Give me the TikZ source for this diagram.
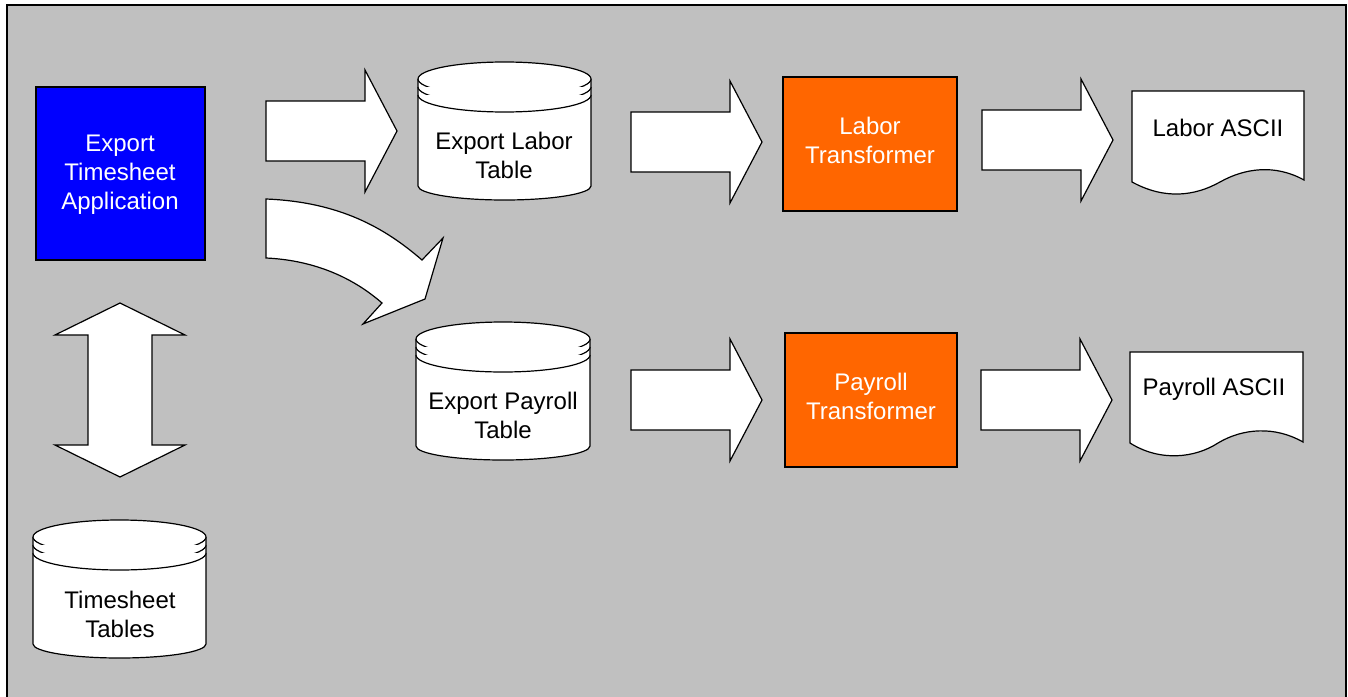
\documentclass[tikz,border=0pt]{standalone}
\usepackage{fontspec}
\setmainfont{Liberation Sans}
\usepackage{tikz}

\definecolor{bggray}{RGB}{192,192,192}
\definecolor{appblue}{RGB}{0,0,255}
\definecolor{xformorange}{RGB}{255,102,0}

% block arrow pointing right: tail x, centre y
\newcommand{\rightblock}[2]{%
  \draw[blockarrow] (#1,#2-30) -- ++(99,0) -- ++(0,-31) -- ++(32,61)
    -- ++(-32,61) -- ++(0,-31) -- ++(-99,0) -- cycle;}

% database table: left x, right x, top centre y, bottom centre y
\newcommand{\dbtable}[4]{%
  \pgfmathsetmacro\rx{(#2-#1)/2}
  \draw[outline] (#1,#3) -- (#1,#4)
    arc[start angle=180,end angle=0,x radius=\rx,y radius=14]
    -- (#2,#3) arc[start angle=0,end angle=-180,x radius=\rx,y radius=17] -- cycle;
  \foreach \d in {0,8,16}
    \draw[outline] (#1,#3+\d) arc[start angle=180,end angle=0,x radius=\rx,y radius=17];}

\begin{document}
\begin{tikzpicture}[x=1pt,y=-1pt,
  outline/.style={draw=black,line width=1.2pt,fill=white},
  blockarrow/.style={outline,line join=miter},
  txt/.style={align=center,inner sep=0pt,font=\fontsize{24}{29}\selectfont},
  procbox/.style={draw=black,line width=1.2pt},
  wtxt/.style={txt,text=white}]
\useasboundingbox (0,0) rectangle (1348,696);
\draw[line width=2pt,fill=bggray] (7,5) rectangle (1346,710);

% process boxes
\node[procbox,fill=appblue,minimum width=169pt,minimum height=173pt] (app)
  at (120.5,173.5) {};
\node[wtxt] (apptext) at (120,175) {Export\\Timesheet\\Application};
\node[procbox,fill=xformorange,minimum width=174pt,minimum height=134pt] (laborx)
  at (870,144) {};
\node[wtxt] (laborxtext) at (870,140.5) {Labor\\Transformer};
\node[procbox,fill=xformorange,minimum width=172pt,minimum height=134pt] (payrollx)
  at (871,400) {};
\node[wtxt] (payrollxtext) at (871,396.5) {Payroll\\Transformer};

% tables
\dbtable{33}{206}{537}{644}
\node[txt] (tstables) at (120,614) {Timesheet\\Tables};
\dbtable{418}{591}{79}{186}
\node[txt] (labortab) at (504,155.5) {Export Labor\\Table};
\dbtable{416}{590}{339}{446}
\node[txt] (payrolltab) at (503,415.5) {Export Payroll\\Table};

% output files
\draw[outline] (1132,91) -- (1132,182)
  .. controls (1165,200) and (1195,196) .. (1220,182)
  .. controls (1245,168) and (1275,164) .. (1304,180) -- (1304,91) -- cycle;
\node[txt] (laborascii) at (1218,128) {Labor ASCII};
\draw[outline] (1130,352) -- (1130,443)
  .. controls (1160,462) and (1195,458) .. (1218,443)
  .. controls (1243,428) and (1275,426) .. (1303,442) -- (1303,352) -- cycle;
\node[txt] (payrollascii) at (1214,389) {Payroll ASCII};

% block arrows
\rightblock{266}{131}
\rightblock{631}{142}
\rightblock{982}{140}
\rightblock{631}{400}
\rightblock{981}{400}
\draw[blockarrow] (120,303) -- (185,335) -- (152,335) -- (152,445) -- (185,445)
  -- (120,477) -- (55,445) -- (88,445) -- (88,335) -- (55,335) -- cycle;
\draw[blockarrow] (266,199) .. controls (340,202) and (385,228) .. (422,260)
  -- (443,238) -- (425,299) -- (363,324) -- (382,303)
  .. controls (350,275) and (310,260) .. (266,258) -- cycle;
\end{tikzpicture}
\end{document}
